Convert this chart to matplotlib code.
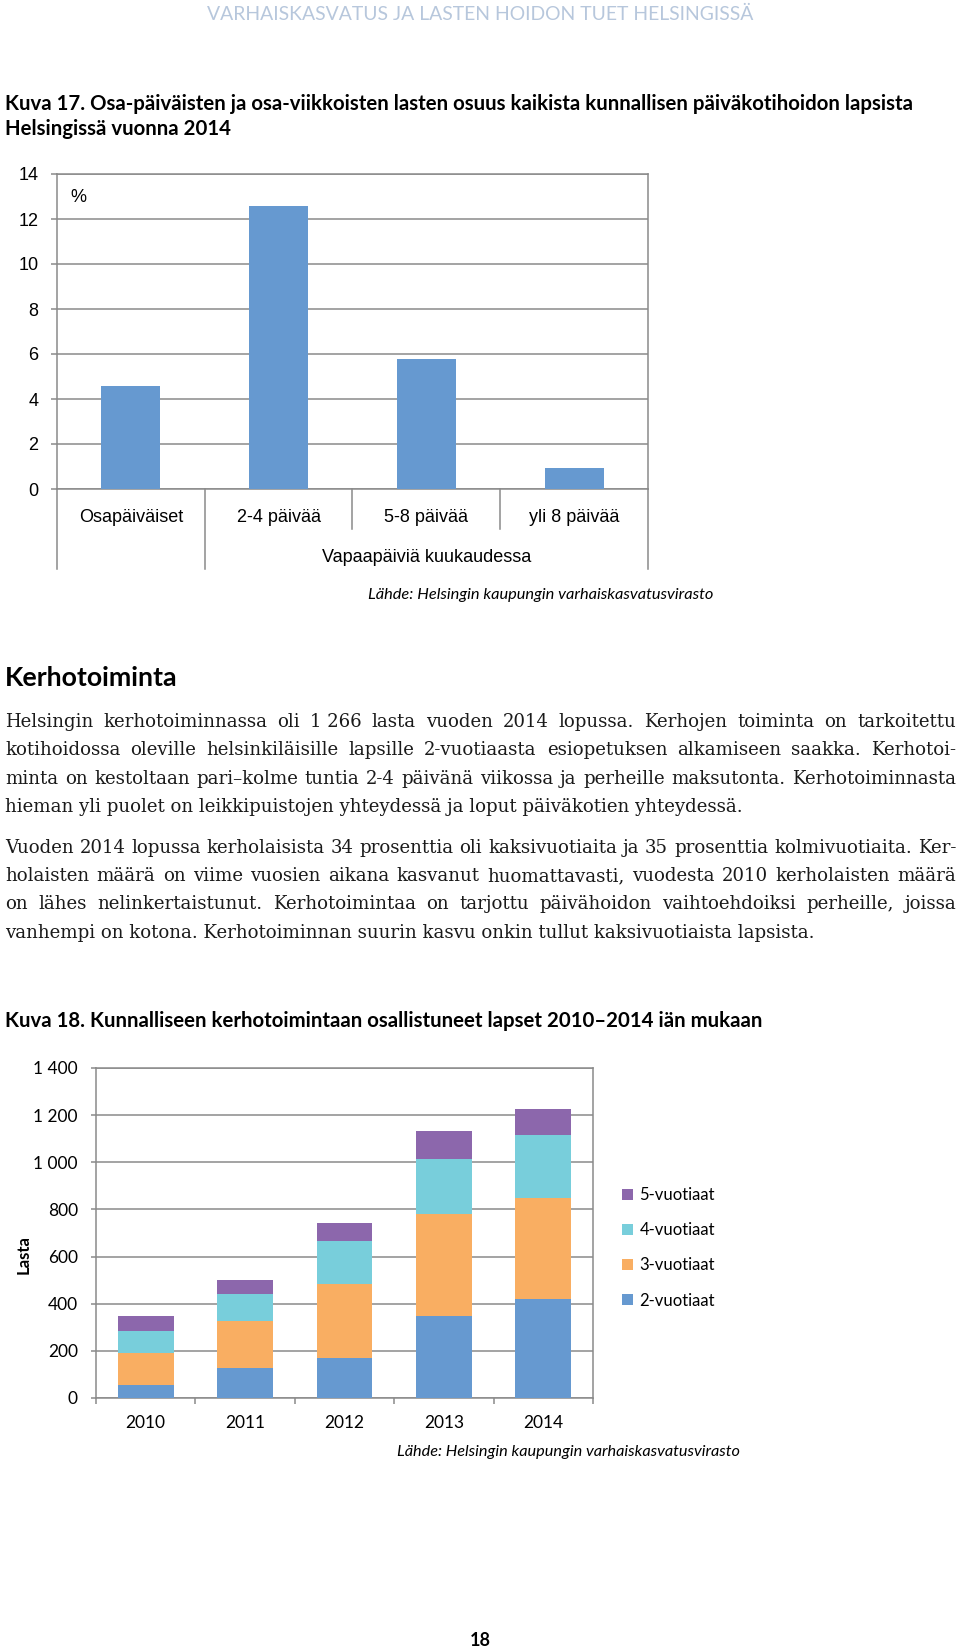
import numpy as np
import matplotlib
matplotlib.use('Agg')
import matplotlib.pyplot as plt
from matplotlib.ticker import FuncFormatter

plt.rcParams['font.family'] = ['Lato', 'DejaVu Sans']

# Kuva 17: share of part-day / part-week children, %
k17_labels = ['Osapäiväiset', '2-4 päivää', '5-8 päivää', 'yli 8 päivää']
k17_values = [4.6, 12.6, 5.8, 0.95]
k17_group = 'Vapaapäiviä kuukaudessa'

# Kuva 18: children in municipal club activities by age
years = ['2010', '2011', '2012', '2013', '2014']
age_labels = ['2-vuotiaat', '3-vuotiaat', '4-vuotiaat', '5-vuotiaat']
age2 = [56, 127, 168, 350, 421]
age3 = [134, 198, 315, 429, 426]
age4 = [96, 117, 183, 237, 268]
age5 = [61, 59, 78, 117, 111]

source = 'Lähde: Helsingin kaupungin varhaiskasvatusvirasto'
para1 = [
    'Helsingin kerhotoiminnassa oli 1\u00a0266 lasta vuoden 2014 lopussa. Kerhojen toiminta on tarkoitettu',
    'kotihoidossa oleville helsinkiläisille lapsille 2-vuotiaasta esiopetuksen alkamiseen saakka. Kerhotoi-',
    'minta on kestoltaan pari–kolme tuntia 2-4 päivänä viikossa ja perheille maksutonta. Kerhotoiminnasta',
    'hieman yli puolet on leikkipuistojen yhteydessä ja loput päiväkotien yhteydessä.',
]
para2 = [
    'Vuoden 2014 lopussa kerholaisista 34 prosenttia oli kaksivuotiaita ja 35 prosenttia kolmivuotiaita. Ker-',
    'holaisten määrä on viime vuosien aikana kasvanut huomattavasti, vuodesta 2010 kerholaisten määrä',
    'on lähes nelinkertaistunut. Kerhotoimintaa on tarjottu päivähoidon vaihtoehdoiksi perheille, joissa',
    'vanhempi on kotona. Kerhotoiminnan suurin kasvu onkin tullut kaksivuotiaista lapsista.',
]

BLUE = '#6699d0'
age_colors = [BLUE, '#f9ae62', '#78cedb', '#8c67ac']
GRID = '#8a8a8a'

W, H = 960, 1650
fig = plt.figure(figsize=(W / 100, H / 100), dpi=100)
renderer = fig.canvas.get_renderer()


def fx(x):
    return x / W


def fy(y):
    return 1 - y / H


def axes_px(left, top, right, bottom):
    return fig.add_axes([fx(left), fy(bottom), (right - left) / W, (bottom - top) / H])


def text_px(x, y, s, width=None, **kw):
    t = fig.text(fx(x), fy(y), s, **kw)
    if width:
        w = t.get_window_extent(renderer).width
        t.set_fontsize(t.get_fontsize() * width / w)
    return t


def measure(s, **kw):
    t = fig.text(0, 0, s, **kw)
    w = t.get_window_extent(renderer).width
    t.remove()
    return w


def justify(lines, baselines, x0, x1, size, **kw):
    # justified paragraph, last line left aligned
    for i, (s, y) in enumerate(zip(lines, baselines)):
        if i == len(lines) - 1:
            fig.text(fx(x0), fy(y), s, size=size, va='baseline', **kw)
            continue
        words = s.split(' ')
        widths = [measure(wd, size=size, **kw) for wd in words]
        gap = (x1 - x0 - sum(widths)) / (len(words) - 1)
        x = x0
        for wd, w in zip(words, widths):
            fig.text(fx(x), fy(y), wd, size=size, va='baseline', **kw)
            x += w + gap


# ---- page header and title ----
text_px(480, 14, 'VARHAISKASVATUS JA LASTEN HOIDON TUET HELSINGISSÄ', width=544,
        ha='center', va='center', color='#b7c7dc', size=10)
t1 = text_px(5, 104, 'Kuva 17. Osa-päiväisten ja osa-viikkoisten lasten osuus kaikista kunnallisen päiväkotihoidon lapsista',
             width=907, va='center', weight='bold', size=10)
text_px(5, 129, 'Helsingissä vuonna 2014', va='center', weight='bold', size=t1.get_fontsize())

# ---- Kuva 17 ----
ax1 = axes_px(57, 174, 648, 489)
ax1.bar(range(len(k17_values)), k17_values, width=0.4, color=BLUE, zorder=3)
ax1.set_xlim(-0.5, 3.5)
ax1.set_ylim(0, 14)
ax1.set_yticks(range(0, 15, 2), [str(v) for v in range(0, 15, 2)],
               fontfamily='Liberation Sans', fontsize=13)
ax1.set_xticks([])
ax1.grid(axis='y', color=GRID, lw=1.1)
ax1.set_axisbelow(True)
for sp in ax1.spines.values():
    sp.set_color(GRID)
    sp.set_linewidth(1.1)
ax1.tick_params(axis='y', length=4.5, width=1.1, color=GRID, pad=9)

trans1 = ax1.get_xaxis_transform()
ah1 = 489 - 174
deep, short = (569 - 489) / ah1, (529 - 489) / ah1
for xb, d in [(-0.5, deep), (0.5, deep), (1.5, short), (2.5, short), (3.5, deep)]:
    ax1.plot([xb, xb], [0, -d], transform=trans1, clip_on=False, color=GRID, lw=1.1)
for i, lab in enumerate(k17_labels):
    ax1.text(i, -(517 - 489) / ah1, lab, transform=trans1, ha='center', va='center',
             fontsize=13, family='Liberation Sans')
ax1.text(2, -(557 - 489) / ah1, k17_group, transform=trans1, ha='center', va='center',
         fontsize=13, family='Liberation Sans')
text_px(70, 198, '%', va='center', size=13, family='Liberation Sans')

text_px(368, 595, source, width=348, va='center', style='italic', size=10)

# ---- text section ----
text_px(5, 678, 'Kerhotoiminta', width=173, va='center', weight='bold', size=10)
body_kw = dict(family='DejaVu Serif', color='#1a1a1a')
full = [s for p in (para1, para2) for s in p[:-1]]
body_size = 10 * min((956 - 5) / measure(s, size=10, **body_kw) for s in full)
justify(para1, [727, 755, 784, 812], 5, 956, body_size, **body_kw)
justify(para2, [853, 881, 909, 938], 5, 956, body_size, **body_kw)

# ---- Kuva 18 ----
text_px(5, 1021, 'Kuva 18. Kunnalliseen kerhotoimintaan osallistuneet lapset 2010–2014 iän mukaan',
        width=756, va='center', weight='bold', size=10)

ax2 = axes_px(96, 1068, 593, 1398)
bottom = np.zeros(len(years))
for vals, lab, col in zip([age2, age3, age4, age5], age_labels, age_colors):
    ax2.bar(years, vals, bottom=bottom, width=0.56, color=col, label=lab, zorder=3)
    bottom += np.array(vals)
ax2.set_xlim(-0.5, 4.5)
ax2.set_ylim(0, 1400)
ax2.set_yticks(range(0, 1401, 200))
ax2.yaxis.set_major_formatter(FuncFormatter(lambda v, p: f'{int(v):,}'.replace(',', ' ')))
ax2.set_xticks(np.arange(-0.5, 5, 1), minor=True)
ax2.grid(axis='y', color=GRID, lw=1.1)
ax2.set_axisbelow(True)
for sp in ax2.spines.values():
    sp.set_color(GRID)
    sp.set_linewidth(1.1)
ax2.tick_params(axis='y', length=3.6, width=1.1, color=GRID, pad=9.4, labelsize=12.5)
ax2.tick_params(axis='x', which='major', length=0, pad=12, labelsize=12.5)
ax2.tick_params(axis='x', which='minor', length=4.5, width=1.1, color=GRID)

handles, labels = ax2.get_legend_handles_labels()
ax2.legend(handles[::-1], labels[::-1], loc='upper left',
           bbox_to_anchor=(fx(622), fy(1187)), bbox_transform=fig.transFigure,
           frameon=False, fontsize=12, handlelength=0.65, handleheight=0.65,
           handletextpad=0.4, labelspacing=1.15, borderpad=0, borderaxespad=0)

text_px(24, 1255, 'Lasta', rotation=90, ha='center', va='center', weight='bold', size=12)
text_px(397, 1452, source, width=345, va='center', style='italic', size=10)

text_px(480, 1641, '18', ha='center', va='center', weight='bold', size=13)

fig.savefig('out.png', dpi=100)
